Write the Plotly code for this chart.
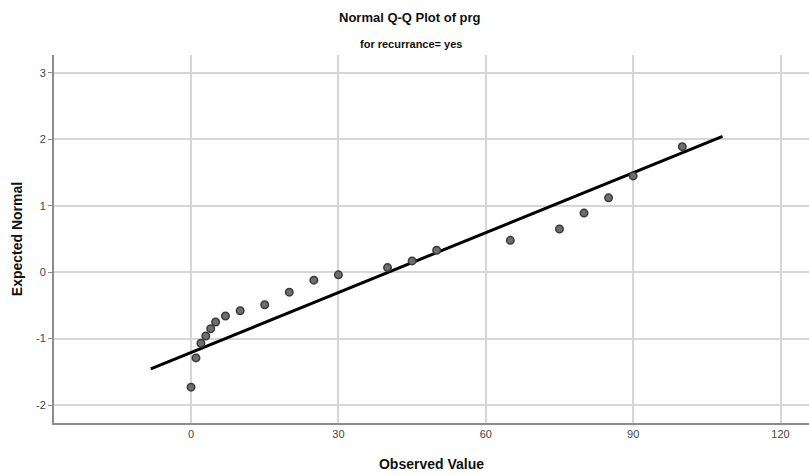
import plotly.graph_objects as go

observed = [0, 1, 2, 3, 4, 5, 7, 10, 15, 20, 25, 30, 40, 45, 50, 65, 75, 80, 85, 90, 100]
expected = [-1.73, -1.29, -1.07, -0.96, -0.85, -0.75, -0.66, -0.58, -0.49, -0.30, -0.12,
            -0.04, 0.07, 0.17, 0.33, 0.48, 0.65, 0.89, 1.12, 1.45, 1.89]
line_x = [-8.2, 108.2]
line_y = [-1.454, 2.045]

x_ticks = [0, 30, 60, 90, 120]
y_ticks = [-2, -1, 0, 1, 2, 3]

fig = go.Figure()
fig.add_trace(go.Scatter(x=line_x, y=line_y, mode="lines",
                         line=dict(color="#000000", width=3), hoverinfo="skip"))
fig.add_trace(go.Scatter(x=observed, y=expected, mode="markers",
                         marker=dict(size=7.5, color="#6e6e6e",
                                     line=dict(color="#3a3a3a", width=1.5))))

font_family = "Liberation Sans, Arial, sans-serif"
fig.update_layout(
    width=809, height=475,
    margin=dict(l=54, r=0, t=55, b=52),
    paper_bgcolor="white", plot_bgcolor="white",
    showlegend=False,
    font=dict(family=font_family, color="#222222"),
)
# plot area spans pixels x 54..809, y 55..423
fig.add_annotation(text="<b>Normal Q-Q Plot of prg</b>", xref="paper", yref="paper",
                   x=(410 - 54) / 755, y=(423 - 18) / 368, xanchor="center", yanchor="middle",
                   showarrow=False, font=dict(size=13, color="#111111"))
fig.add_annotation(text="<b>for recurrance= yes</b>", xref="paper", yref="paper",
                   x=(411 - 54) / 755, y=(423 - 44) / 368, xanchor="center", yanchor="middle",
                   showarrow=False, font=dict(size=11, color="#111111"))

fig.update_xaxes(range=[-27.9, 125.8], tickvals=x_ticks, ticktext=[str(v) for v in x_ticks],
                 showgrid=True, gridcolor="#d6d6d6", gridwidth=1.5,
                 showline=True, linecolor="#8c8c8c", linewidth=2,
                 zeroline=False, ticks="", tickfont=dict(size=11, color="#444444"),
                 title=dict(text="<b>Observed Value</b>", font=dict(size=14, color="#111111"), standoff=20))
fig.update_yaxes(range=[-2.27, 3.27], tickvals=y_ticks, ticktext=[str(v) for v in y_ticks],
                 showgrid=True, gridcolor="#d6d6d6", gridwidth=1.5,
                 showline=True, linecolor="#8c8c8c", linewidth=2,
                 zeroline=False, ticks="outside", ticklen=4, tickcolor="#8c8c8c",
                 tickfont=dict(size=11, color="#444444"),
                 title=dict(text="<b>Expected Normal</b>", font=dict(size=14, color="#111111"), standoff=10))

fig.write_html("out.html")
